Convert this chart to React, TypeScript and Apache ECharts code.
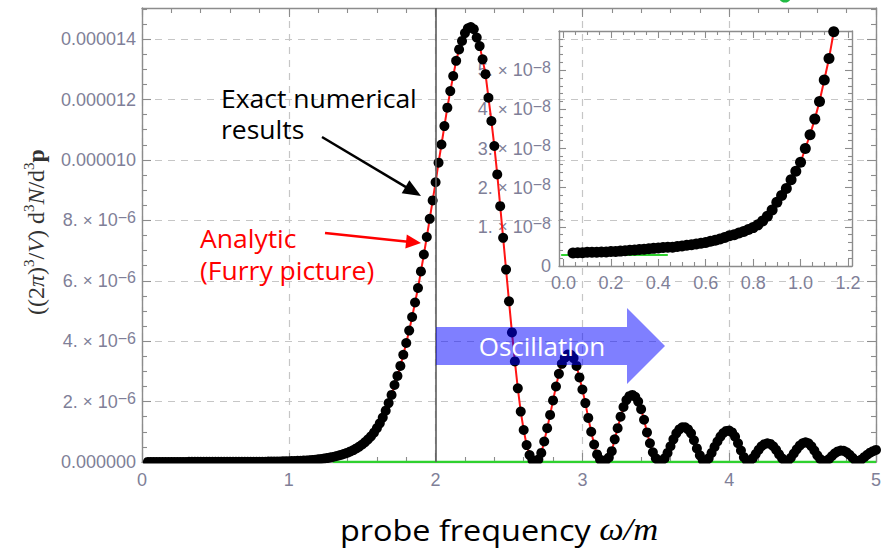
import React, { useEffect, useRef } from 'react';
import * as echarts from 'echarts';

// ---- data (x = ω/m, y in units of 1e-6) ----
const tailPoints: [number, number][] = [
  [0.04, 0.0033], [0.06, 0.0034], [0.08, 0.0034], [0.10, 0.0035], [0.12, 0.0035], [0.14, 0.0035],
  [0.16, 0.0036], [0.18, 0.0036], [0.20, 0.0037], [0.22, 0.0037], [0.24, 0.0038], [0.26, 0.0039],
  [0.28, 0.0040], [0.30, 0.0041], [0.32, 0.0042], [0.34, 0.0043], [0.36, 0.0044], [0.38, 0.0045],
  [0.40, 0.0046], [0.42, 0.0047], [0.44, 0.0048], [0.46, 0.0048], [0.48, 0.0050], [0.50, 0.0051],
  [0.52, 0.0053], [0.54, 0.0054], [0.56, 0.0056], [0.58, 0.0058], [0.60, 0.0060], [0.62, 0.0063],
  [0.64, 0.0066], [0.66, 0.0069], [0.68, 0.0073], [0.70, 0.0077], [0.72, 0.0080], [0.74, 0.0084],
  [0.76, 0.0088], [0.78, 0.0093], [0.80, 0.0098], [0.82, 0.0105], [0.84, 0.0115], [0.86, 0.0127],
  [0.88, 0.0143], [0.90, 0.0163], [0.92, 0.0180], [0.94, 0.0198], [0.96, 0.0220], [0.98, 0.0242],
  [1.00, 0.0265], [1.02, 0.0300], [1.04, 0.0335], [1.06, 0.0375], [1.08, 0.0420], [1.10, 0.0475],
  [1.12, 0.0530], [1.14, 0.0598],
];
const risePoints: [number, number][] = [
  [1.16, 0.068], [1.18, 0.077], [1.20, 0.087], [1.22, 0.100], [1.24, 0.114], [1.26, 0.130],
  [1.28, 0.148], [1.30, 0.168], [1.32, 0.190], [1.34, 0.215], [1.36, 0.243], [1.38, 0.275],
  [1.40, 0.310], [1.42, 0.350], [1.44, 0.395], [1.46, 0.450], [1.48, 0.510], [1.50, 0.580],
  [1.52, 0.660], [1.54, 0.750], [1.56, 0.850], [1.58, 0.970], [1.60, 1.120], [1.62, 1.280],
  [1.64, 1.470], [1.66, 1.700], [1.68, 1.950], [1.70, 2.220], [1.72, 2.550], [1.74, 2.850],
  [1.76, 3.180], [1.78, 3.550], [1.80, 3.940], [1.82, 4.350], [1.84, 4.800], [1.86, 5.280],
  [1.88, 5.760], [1.90, 6.310], [1.92, 6.870], [1.94, 7.450], [1.96, 8.050], [1.98, 8.660],
  [2.00, 9.260], [2.02, 9.910], [2.04, 10.51], [2.06, 11.12], [2.08, 11.73], [2.10, 12.28],
  [2.12, 12.78], [2.14, 13.28], [2.16, 13.66], [2.18, 13.94], [2.20, 14.20], [2.22, 14.36],
  [2.24, 14.40],
];
const fallPoints: [number, number][] = [
  [2.26, 14.33], [2.28, 14.05], [2.30, 13.77], [2.32, 13.33], [2.34, 12.84], [2.36, 12.06],
  [2.38, 11.29], [2.40, 10.46], [2.42, 9.52], [2.44, 8.47], [2.46, 7.42], [2.48, 6.37],
  [2.50, 5.32], [2.52, 4.29], [2.54, 3.33], [2.56, 2.44], [2.58, 1.67], [2.60, 1.06],
  [2.62, 0.56], [2.64, 0.23], [2.66, 0.06], [2.68, 0.01],
];
const ripplePoints: [number, number][] = [
  [2.70, 0.08], [2.72, 0.30], [2.74, 0.68], [2.76, 1.12], [2.78, 1.56], [2.80, 2.04],
  [2.82, 2.50], [2.84, 2.92], [2.86, 3.25], [2.88, 3.45], [2.90, 3.56], [2.92, 3.55],
  [2.94, 3.44], [2.96, 3.18], [2.98, 2.80], [3.00, 2.40], [3.02, 1.95], [3.04, 1.46],
  [3.06, 1.00], [3.08, 0.58], [3.10, 0.25], [3.12, 0.08], [3.14, 0.02], [3.16, 0.06],
  [3.18, 0.15], [3.20, 0.36], [3.22, 0.75], [3.24, 1.12], [3.26, 1.50], [3.28, 1.82],
  [3.30, 2.05], [3.32, 2.18], [3.34, 2.22], [3.36, 2.16], [3.38, 2.00], [3.40, 1.75],
  [3.42, 1.40], [3.44, 0.98], [3.46, 0.62], [3.48, 0.32], [3.50, 0.12], [3.52, 0.03],
  [3.54, 0.04], [3.56, 0.12], [3.58, 0.30], [3.60, 0.52], [3.62, 0.75], [3.64, 0.95],
  [3.66, 1.08], [3.68, 1.15], [3.70, 1.15], [3.72, 1.08], [3.74, 0.95], [3.76, 0.72],
  [3.78, 0.45], [3.80, 0.22], [3.82, 0.06], [3.84, 0.02], [3.86, 0.12], [3.88, 0.30],
  [3.90, 0.50], [3.92, 0.68], [3.94, 0.84], [3.96, 0.96], [3.98, 1.03], [4.00, 1.04],
  [4.02, 0.98], [4.04, 0.84], [4.06, 0.62], [4.08, 0.38], [4.10, 0.16], [4.12, 0.04],
  [4.14, 0.03], [4.16, 0.12], [4.18, 0.26], [4.20, 0.40], [4.22, 0.52], [4.24, 0.59],
  [4.26, 0.62], [4.28, 0.60], [4.30, 0.52], [4.32, 0.40], [4.34, 0.25], [4.36, 0.12],
  [4.38, 0.03], [4.40, 0.04], [4.42, 0.14], [4.44, 0.28], [4.46, 0.42], [4.48, 0.54],
  [4.50, 0.62], [4.52, 0.65], [4.54, 0.62], [4.56, 0.52], [4.58, 0.38], [4.60, 0.22],
  [4.62, 0.10], [4.64, 0.03], [4.66, 0.03], [4.68, 0.10], [4.70, 0.20], [4.72, 0.29],
  [4.74, 0.35], [4.76, 0.38], [4.78, 0.37], [4.80, 0.32], [4.82, 0.24], [4.84, 0.14],
  [4.86, 0.05], [4.88, 0.03], [4.90, 0.08], [4.92, 0.16], [4.94, 0.24], [4.96, 0.31],
  [4.98, 0.36], [5.00, 0.40],
];
const mainGreen: [number, number][] = [[1.3, 0], [5, 0]];
const insetGreen: [number, number][] = [[-0.01, 0.0028], [0.44, 0.0028]];
const thresholdX = 2;

const mainXMajor = [0, 1, 2, 3, 4, 5];
const mainYMajor = [0, 2, 4, 6, 8, 10, 12, 14];
const insetXMajor = [0, 0.2, 0.4, 0.6, 0.8, 1.0, 1.2];
const insetYMajor = [0, 0.01, 0.02, 0.03, 0.04, 0.05];

const mainPoints = [...tailPoints, ...risePoints, ...fallPoints, ...ripplePoints];

// ---- styling ----
const FRAME = '#8c8c8c';
const LABEL = '#7f7f98';
const SANS = 'Liberation Sans, Arial, sans-serif';
const TEXT = 'Open Sans, Noto Sans, sans-serif';
const SERIF = 'Liberation Serif, Times New Roman, serif';

function minorTicks(from: number, to: number, step: number, majors: number[]) {
  const out: number[] = [];
  const n = Math.round((to - from) / step);
  for (let i = 0; i <= n; i++) {
    const v = Math.round((from + i * step) * 1e6) / 1e6;
    if (!majors.some((m) => Math.abs(m - v) < 1e-9)) out.push(v);
  }
  return out;
}

const labelRich = {
  n: { fontSize: 18, fontFamily: SANS, color: LABEL, lineHeight: 22 },
  t: { fontSize: 17, fontFamily: SANS, color: LABEL, lineHeight: 22, padding: [0, 5, 0, 5] },
  s: { fontSize: 16, fontFamily: SANS, color: LABEL, lineHeight: 10, verticalAlign: 'top' },
};

function makeAxis(o: {
  grid: number; pos: string; min: number; max: number; ticks: number[]; len: number;
  line?: boolean; label?: any; split?: boolean;
}) {
  return {
    type: 'value',
    gridIndex: o.grid,
    position: o.pos,
    min: o.min,
    max: o.max,
    axisLine: { show: !!o.line, onZero: false, lineStyle: { color: FRAME, width: 1.4 } },
    axisTick: {
      show: true, inside: true, length: o.len, customValues: o.ticks,
      lineStyle: { color: FRAME, width: 1.1 },
    },
    axisLabel: o.label ? o.label : { show: false },
    splitLine: o.split
      ? { show: true, lineStyle: { color: '#c6c6c6', width: 1.2, type: [7, 6] } }
      : { show: false },
    minorTick: { show: false },
    minorSplitLine: { show: false },
  };
}

const MAIN_Y_MAX = 15.03;
const INSET_X_MIN = -0.019;
const INSET_X_MAX = 1.217;
const INSET_Y_MAX = 0.06;

function arrow(x1: number, y1: number, x2: number, y2: number, len: number, half: number, color: string) {
  const dx = x2 - x1, dy = y2 - y1, d = Math.hypot(dx, dy);
  const ux = dx / d, uy = dy / d;
  const bx = x2 - ux * len, by = y2 - uy * len;
  return [
    { type: 'line', shape: { x1, y1, x2: bx + ux * 2, y2: by + uy * 2 }, style: { stroke: color, lineWidth: 2.5 }, z: 50 },
    {
      type: 'polygon',
      shape: { points: [[x2, y2], [bx - uy * half, by + ux * half], [bx + uy * half, by - ux * half]] },
      style: { fill: color }, z: 50,
    },
  ];
}

export default function App() {
  const ref = useRef<HTMLDivElement>(null);
  useEffect(() => {
    if (!ref.current) return;
    const chart = echarts.init(ref.current, null, { renderer: 'svg' });

    const mainXMinor = minorTicks(0, 5, 0.2, mainXMajor);
    const mainYMinor = minorTicks(0, 15, 0.5, mainYMajor);
    const insetXMinor = minorTicks(0, 1.2, 0.05, insetXMajor);
    const insetYMinor = minorTicks(0, 0.06, 0.002, insetYMajor);

    const mainYLabel = {
      show: true, customValues: mainYMajor, margin: 6, rich: labelRich,
      color: LABEL, fontSize: 18, fontFamily: SANS,
      formatter: (v: number) =>
        v === 0 ? '0.000000' : v >= 10 ? '0.0000' + String(v) : `{n|${v}.}{t|×}{n|10}{s|−6}`,
    };
    const insetYLabel = {
      show: true, customValues: insetYMajor, margin: 8, rich: labelRich,
      color: LABEL, fontSize: 18, fontFamily: SANS,
      formatter: (v: number) => (v === 0 ? '0' : `{n|${Math.round(v * 100)}.}{t|×}{n|10}{s|−8}`),
    };
    const mainXLabel = {
      show: true, customValues: mainXMajor, margin: 9, color: LABEL, fontSize: 18, fontFamily: SANS,
      formatter: (v: number) => String(v),
    };
    const insetXLabel = {
      show: true, customValues: insetXMajor, margin: 8, color: LABEL, fontSize: 18, fontFamily: SANS,
      formatter: (v: number) => v.toFixed(1),
    };

    const xAxis = [
      makeAxis({ grid: 0, pos: 'bottom', min: 0, max: 5, ticks: mainXMajor, len: 9, line: true, label: mainXLabel, split: true }),
      makeAxis({ grid: 0, pos: 'bottom', min: 0, max: 5, ticks: mainXMinor, len: 5 }),
      makeAxis({ grid: 0, pos: 'top', min: 0, max: 5, ticks: mainXMajor, len: 9, line: true }),
      makeAxis({ grid: 0, pos: 'top', min: 0, max: 5, ticks: mainXMinor, len: 5 }),
      makeAxis({ grid: 1, pos: 'bottom', min: INSET_X_MIN, max: INSET_X_MAX, ticks: insetXMajor, len: 7, line: true, label: insetXLabel }),
      makeAxis({ grid: 1, pos: 'bottom', min: INSET_X_MIN, max: INSET_X_MAX, ticks: insetXMinor, len: 4 }),
      makeAxis({ grid: 1, pos: 'top', min: INSET_X_MIN, max: INSET_X_MAX, ticks: insetXMajor, len: 7, line: true }),
      makeAxis({ grid: 1, pos: 'top', min: INSET_X_MIN, max: INSET_X_MAX, ticks: insetXMinor, len: 4 }),
    ];
    const yAxis = [
      makeAxis({ grid: 0, pos: 'left', min: 0, max: MAIN_Y_MAX, ticks: mainYMajor, len: 9, line: true, label: mainYLabel, split: true }),
      makeAxis({ grid: 0, pos: 'left', min: 0, max: MAIN_Y_MAX, ticks: mainYMinor, len: 5 }),
      makeAxis({ grid: 0, pos: 'right', min: 0, max: MAIN_Y_MAX, ticks: mainYMajor, len: 9, line: true }),
      makeAxis({ grid: 0, pos: 'right', min: 0, max: MAIN_Y_MAX, ticks: mainYMinor, len: 5 }),
      makeAxis({ grid: 1, pos: 'left', min: 0, max: INSET_Y_MAX, ticks: insetYMajor, len: 7, line: true, label: insetYLabel }),
      makeAxis({ grid: 1, pos: 'left', min: 0, max: INSET_Y_MAX, ticks: insetYMinor, len: 4 }),
      makeAxis({ grid: 1, pos: 'right', min: 0, max: INSET_Y_MAX, ticks: insetYMajor, len: 7, line: true }),
      makeAxis({ grid: 1, pos: 'right', min: 0, max: INSET_Y_MAX, ticks: insetYMinor, len: 4 }),
    ];

    const insetPoints = mainPoints.filter((p) => p[0] <= 1.22);

    const yTitle =
      '{n|((2}{i|π}{n|)}{s|3}{n|/}{i|V}{n|) d}{s|3}{i|N}{n|/d}{s|3}{b|p}';
    const yRich = {
      n: { fontFamily: SERIF, fontSize: 24, fill: '#333', lineHeight: 30 },
      i: { fontFamily: SERIF, fontSize: 24, fontStyle: 'italic', fill: '#333', lineHeight: 30 },
      b: { fontFamily: SERIF, fontSize: 24, fontWeight: 'bold', fill: '#333', lineHeight: 30 },
      s: { fontFamily: SERIF, fontSize: 15, fill: '#333', lineHeight: 16, verticalAlign: 'top' },
    };

    const option: any = {
      animation: false,
      backgroundColor: '#ffffff',
      grid: [
        { left: 142, top: 8, width: 734, height: 454, show: false },
        { left: 559, top: 31, width: 293, height: 235, show: false },
      ],
      xAxis,
      yAxis,
      series: [
        {
          type: 'line', xAxisIndex: 0, yAxisIndex: 0, data: mainPoints, symbol: 'none',
          lineStyle: { color: '#ff1414', width: 2 }, z: 2,
          markLine: {
            silent: true, symbol: ['none', 'none'], label: { show: false },
            lineStyle: { color: '#5c5c5c', width: 1.6, type: 'solid' },
            data: [{ xAxis: thresholdX }],
          },
        },
        {
          type: 'line', xAxisIndex: 0, yAxisIndex: 0, data: mainGreen, symbol: 'none',
          lineStyle: { color: '#2fd12f', width: 2.5 }, z: 2,
        },
        {
          type: 'scatter', xAxisIndex: 0, yAxisIndex: 0, data: mainPoints, symbolSize: 10,
          itemStyle: { color: '#000000', opacity: 1 }, z: 3,
        },
        {
          type: 'line', xAxisIndex: 4, yAxisIndex: 4, data: insetPoints, symbol: 'none',
          lineStyle: { color: '#ff1414', width: 2 }, z: 2,
        },
        {
          type: 'line', xAxisIndex: 4, yAxisIndex: 4, data: insetGreen, symbol: 'none',
          lineStyle: { color: '#2fd12f', width: 2 }, z: 2,
        },
        {
          type: 'scatter', xAxisIndex: 4, yAxisIndex: 4, data: insetPoints, symbolSize: 11,
          itemStyle: { color: '#000000', opacity: 1 }, z: 3,
        },
      ],
      graphic: [
        // hide the part of the dots that falls below the frame
        { type: 'rect', shape: { x: 138, y: 463.4, width: 745, height: 6 }, style: { fill: '#ffffff' }, z: 20 },
        // legend marker cut at the top edge
        { type: 'circle', shape: { cx: 785, cy: -4, r: 6.5 }, style: { fill: '#22bb44' }, z: 20 },
        // y title
        {
          type: 'text', x: 36, y: 232, rotation: Math.PI / 2, z: 30,
          style: { text: yTitle, rich: yRich, align: 'center', verticalAlign: 'middle' },
        },
        // x title
        {
          type: 'text', x: 499, y: 529, scaleX: 1.08, z: 30,
          style: {
            text: '{r|probe frequency }{m|ω/m}',
            rich: {
              r: { fontFamily: TEXT, fontSize: 30, fill: '#000', lineHeight: 34 },
              m: { fontFamily: SERIF, fontSize: 32, fontStyle: 'italic', fill: '#000', lineHeight: 34 },
            },
            align: 'center', verticalAlign: 'middle',
          },
        },
        // annotations
        {
          type: 'text', x: 221, y: 114, scaleX: 1.06, z: 40,
          style: {
            text: 'Exact numerical\nresults', font: `25px ${TEXT}`, fill: '#000',
            lineHeight: 31, align: 'left', verticalAlign: 'middle',
          },
        },
        {
          type: 'text', x: 200, y: 254, scaleX: 1.06, z: 40,
          style: {
            text: 'Analytic\n(Furry picture)', font: `25px ${TEXT}`, fill: '#ff0000',
            lineHeight: 32, align: 'left', verticalAlign: 'middle',
          },
        },
        ...arrow(322, 137, 421, 196, 18, 7.5, '#000000'),
        ...arrow(325, 233, 421, 243, 15, 7, '#ff0000'),
        // oscillation arrow
        {
          type: 'polygon', z: 60,
          shape: { points: [[436, 327], [627, 327], [627, 308], [665, 346], [627, 384], [627, 365], [436, 365]] },
          style: { fill: 'rgba(0,0,255,0.5)' },
        },
        {
          type: 'text', x: 542, y: 346, z: 61,
          style: { text: 'Oscillation', font: `26px ${TEXT}`, fill: '#ffffff', align: 'center', verticalAlign: 'middle' },
        },
      ],
    };

    chart.setOption(option);
    return () => chart.dispose();
  }, []);

  return (
    <div
      ref={ref}
      style={{ position: 'absolute', left: 0, top: 0, width: 888, height: 550, background: '#fff' }}
    />
  );
}
